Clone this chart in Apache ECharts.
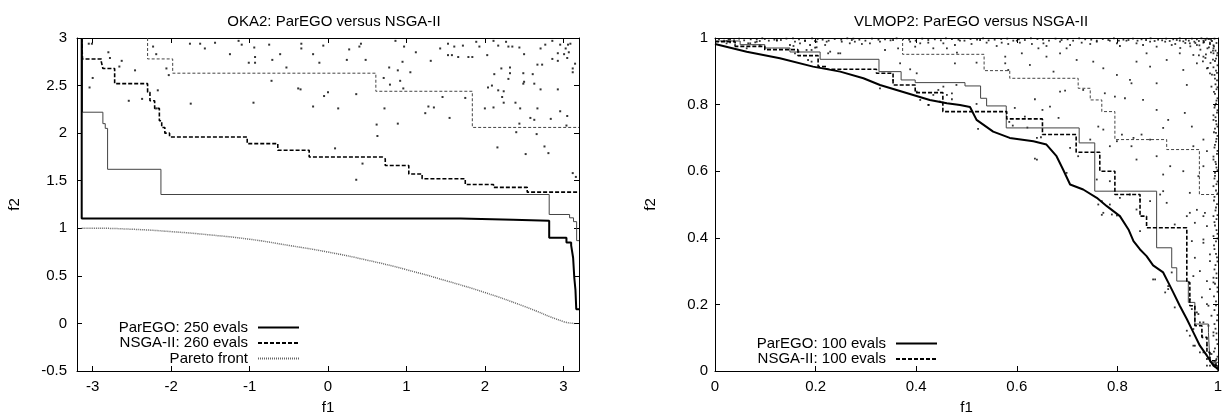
<!DOCTYPE html>
<html>
<head>
<meta charset="utf-8">
<script src="https://cdn.jsdelivr.net/npm/echarts@6/dist/echarts.min.js"></script>
<style>
html,body{margin:0;padding:0;background:#fff;}
#chart{width:1230px;height:420px;}
</style>
</head>
<body>
<div id="chart"></div>
<script>
// ---------- OKA2 (left) ----------
const okaXTicks = [-3, -2, -1, 0, 1, 2, 3];
const okaLegend = ['ParEGO: 250 evals', 'NSGA-II: 260 evals', 'Pareto front'];
// attainment surfaces as step corners [f1, f2]
const okaParegoMedian = [[-3.14,3.0],[-3.14,1.103],[1.69,1.09],[2.36,1.08],[2.82,0.90],[3.04,0.85],[3.10,0.82],[3.125,0.69],[3.14,0.48],[3.155,0.35],[3.165,0.15],[3.2,0.15]];
const okaParegoWorst = [[-3.13,3.0],[-3.13,2.22],[-2.87,2.10],[-2.84,2.05],[-2.81,1.62],[-2.13,1.355],[2.82,1.145],[3.08,1.11],[3.13,1.07],[3.17,0.87],[3.2,0.87]];
const okaNsgaMedian = [[-3.14,3.0],[-3.13,2.78],[-2.89,2.75],[-2.87,2.68],[-2.72,2.52],[-2.30,2.43],[-2.27,2.34],[-2.21,2.26],[-2.15,2.13],[-2.12,2.06],[-2.08,2.0],[-2.02,1.96],[-1.03,1.89],[-0.64,1.82],[-0.24,1.75],[0.69,1.73],[0.73,1.66],[1.03,1.57],[1.20,1.52],[1.75,1.46],[2.11,1.43],[2.54,1.38],[3.2,1.38]];
const okaNsgaWorst = [[-2.30,3.0],[-2.30,2.78],[-1.98,2.63],[0.61,2.44],[1.84,2.06],[3.2,2.06]];
const okaPareto = [[-3.14,1.0],[-3.0,1.0],[-2.5,0.99],[-2.0,0.965],[-1.5,0.93],[-1.0,0.885],[-0.5,0.82],[0.0,0.75],[0.5,0.665],[1.0,0.565],[1.5,0.45],[2.0,0.325],[2.5,0.18],[3.0,0.02],[3.14,0.0]];
const okaDots = [[-3.05,2.94],[-3.01,2.94],[-2.80,2.85],[-2.78,2.79],[-2.63,2.76],[-2.66,2.70],[-2.46,2.66],[-3.00,2.58],[-3.04,2.48],[-2.54,2.34],[-2.37,2.36],[-2.17,2.45],[-2.19,2.26],[-2.23,2.91],[-2.19,2.83],[-2.06,2.68],[-2.03,2.61],[-1.75,2.31],[-1.76,2.94],[-1.63,2.94],[-1.57,2.89],[-1.44,2.95],[-1.25,2.83],[-1.14,2.97],[-1.10,2.93],[-1.01,2.74],[-0.93,2.74],[-0.93,2.80],[-0.94,2.90],[-0.75,2.93],[-0.71,2.77],[-0.61,2.83],[-0.53,2.69],[-0.72,2.55],[-0.95,2.32],[-0.38,2.47],[-0.35,2.46],[-0.34,2.94],[-0.34,2.89],[-0.19,2.83],[-0.11,2.74],[-0.19,2.28],[-0.06,2.92],[-0.05,2.39],[0.00,2.43],[0.13,2.26],[0.09,1.84],
[0.27,2.88],[0.40,2.91],[0.42,2.94],[0.24,2.77],[0.48,2.77],[0.86,2.97],[0.97,2.91],[1.12,2.85],[0.95,2.75],[0.78,2.69],[0.89,2.66],[1.05,2.64],[0.71,2.58],[0.92,2.55],[0.79,2.51],[0.96,2.47],[0.36,2.41],[0.72,2.26],[1.28,2.28],[1.35,2.27],[1.24,2.21],[1.55,2.16],[1.46,2.38],[1.75,2.37],[0.89,2.10],[0.62,2.09],[0.63,1.97],[0.44,1.68],[0.36,1.51],[1.31,2.76],[1.43,2.89],[1.53,2.94],[1.61,2.91],[1.72,2.92],[1.53,2.82],[1.58,2.82],[1.66,2.80],[1.79,2.80],[1.84,2.80],[1.89,2.96],[1.93,2.91],[2.03,2.82],[2.11,2.97],[2.17,2.92],[2.27,2.96],[2.30,2.91],[2.35,2.91],[2.44,2.90],[2.50,2.83],[2.71,2.89],[2.77,2.93],[2.86,2.97],[2.96,2.93],[3.06,2.93],[3.09,2.94],[3.03,2.89],[2.93,2.84],[3.01,2.83],[3.07,2.85],[2.86,2.78],[2.93,2.76],[3.05,2.79],[3.15,2.73],[2.67,2.72],[2.73,2.72],[2.32,2.69],[2.21,2.68],[2.12,2.62],[2.32,2.63],[2.49,2.63],[2.61,2.62],[3.12,2.68],[3.12,2.64],[2.30,2.57],[2.50,2.54],[2.49,2.52],[2.63,2.52],[2.04,2.48],[2.09,2.50],[2.17,2.45],[2.24,2.44],[2.71,2.46],[2.93,2.46],[2.22,2.38],[2.24,2.32],[2.39,2.32],[2.00,2.26],[2.11,2.27],[2.45,2.26],[2.67,2.26],[2.96,2.23],[3.05,2.18],[2.58,2.16],[2.63,2.14],[2.84,2.15],[2.44,2.10],[3.04,2.08],[2.40,2.01],[2.66,1.99],[2.16,1.85],[2.52,1.78],[2.76,1.86],[2.81,1.79],[3.12,1.58],[3.16,1.54]];

// ---------- VLMOP2 (right) ----------
const vlmLegend = ['ParEGO: 100 evals', 'NSGA-II: 100 evals'];
const vlmParegoMedian = [[0,0.982],[0.063,0.959],[0.129,0.939],[0.195,0.914],[0.249,0.899],[0.295,0.879],[0.328,0.859],[0.361,0.844],[0.394,0.829],[0.427,0.814],[0.461,0.804],[0.487,0.799],[0.507,0.793],[0.520,0.754],[0.553,0.719],[0.586,0.700],[0.633,0.690],[0.659,0.680],[0.679,0.645],[0.692,0.605],[0.706,0.560],[0.732,0.545],[0.759,0.520],[0.779,0.495],[0.805,0.465],[0.822,0.425],[0.832,0.390],[0.845,0.365],[0.858,0.345],[0.871,0.317],[0.891,0.296],[0.901,0.266],[0.911,0.236],[0.924,0.196],[0.938,0.156],[0.951,0.116],[0.964,0.076],[0.978,0.046],[0.991,0.016],[1.0,0.006]];
const vlmParegoWorst = [[0,0.991],[0.05,0.98],[0.099,0.970],[0.149,0.958],[0.209,0.936],[0.326,0.899],[0.370,0.874],[0.398,0.866],[0.497,0.856],[0.528,0.819],[0.540,0.796],[0.579,0.730],[0.724,0.685],[0.755,0.540],[0.878,0.370],[0.908,0.310],[0.918,0.270],[0.941,0.206],[0.954,0.141],[0.981,0.116],[0.984,0.026],[1.0,0.026]];
const vlmNsgaMedian = [[0,0.989],[0.04,0.975],[0.099,0.965],[0.165,0.947],[0.205,0.914],[0.222,0.906],[0.321,0.894],[0.354,0.859],[0.398,0.836],[0.453,0.779],[0.58,0.757],[0.651,0.710],[0.718,0.657],[0.765,0.600],[0.795,0.530],[0.845,0.465],[0.858,0.430],[0.938,0.266],[0.944,0.196],[0.954,0.136],[0.968,0.101],[0.978,0.056],[0.984,0.031],[0.994,0.016],[1.0,0.0]];
const vlmNsgaWorst = [[0.373,1.0],[0.373,0.951],[0.535,0.902],[0.586,0.879],[0.722,0.849],[0.746,0.814],[0.769,0.779],[0.795,0.695],[0.898,0.665],[0.963,0.530],[1.0,0.530]];
const vlmDots = [[0.023,0.991],[0.030,0.987],[0.038,0.993],[0.066,0.984],[0.080,0.987],[0.089,0.991],[0.099,0.997],[0.123,0.994],[0.149,0.979],[0.159,0.989],[0.179,0.991],[0.189,0.979],[0.192,0.964],[0.199,0.971],[0.199,0.991],[0.222,0.989],[0.229,0.959],[0.249,0.954],[0.252,0.989],[0.272,0.994],[0.278,0.989],[0.185,0.934],[0.192,0.929],[0.166,0.959],
[0.023,0.984],[0.030,0.996],[0.040,0.979],[0.070,0.984],[0.083,0.989],[0.089,0.979],[0.063,0.969],[0.123,0.992],[0.156,0.976],[0.169,0.984],[0.159,0.954],[0.182,0.964],[0.202,0.989],[0.202,0.972],[0.219,0.979],[0.225,0.954],[0.245,0.954],[0.268,0.984],[0.292,0.982],[0.308,0.984],[0.328,0.989],[0.338,0.964],[0.354,0.994],[0.364,0.969],[0.388,0.989],[0.398,0.974],[0.408,0.984],[0.424,0.986],[0.434,0.969],[0.454,0.984],[0.461,0.969],[0.477,0.979],[0.368,0.924],[0.388,0.906],[0.401,0.894],[0.444,0.844],[0.454,0.854],[0.477,0.924],[0.328,0.849],[0.354,0.874],[0.401,0.839],[0.424,0.799],[0.434,0.829],[0.447,0.809],[0.480,0.859],
[0.487,0.992],[0.510,0.982],[0.527,0.994],[0.540,0.986],[0.560,0.976],[0.570,0.986],[0.583,0.982],[0.600,0.992],[0.606,0.986],[0.630,0.982],[0.653,0.984],[0.659,0.976],[0.686,0.989],[0.706,0.979],[0.729,0.986],[0.746,0.982],[0.759,0.989],[0.785,0.992],[0.799,0.984],[0.805,0.976],[0.818,0.992],[0.838,0.984],[0.851,0.979],[0.865,0.989],[0.878,0.974],[0.895,0.989],[0.908,0.979],[0.924,0.992],[0.944,0.984],[0.958,0.979],[0.971,0.986],[0.984,0.982],[0.991,0.969],
[0.481,0.956],[0.520,0.926],[0.577,0.944],[0.577,0.924],[0.610,0.954],[0.626,0.919],[0.643,0.969],[0.659,0.944],[0.673,0.899],[0.686,0.954],[0.699,0.969],[0.719,0.934],[0.752,0.929],[0.772,0.909],[0.799,0.889],[0.825,0.874],[0.838,0.929],[0.858,0.954],[0.865,0.914],[0.878,0.864],[0.898,0.934],[0.924,0.954],[0.931,0.904],[0.938,0.859],[0.951,0.949],[0.958,0.924],[0.971,0.944],[0.978,0.909],[0.984,0.894],[0.987,0.854],[0.991,0.954],
[0.520,0.802],[0.583,0.904],[0.686,0.839],[0.696,0.842],[0.636,0.816],[0.666,0.794],[0.683,0.760],[0.732,0.844],[0.775,0.834],[0.795,0.824],[0.815,0.819],[0.828,0.864],[0.851,0.814],[0.878,0.784],[0.901,0.754],[0.934,0.775],[0.948,0.734],[0.991,0.754],[0.996,0.715],[0.971,0.695],[0.978,0.660],[0.951,0.675],[0.891,0.730],[0.865,0.695],[0.832,0.700],[0.809,0.710],[0.799,0.690],[0.785,0.675],[0.828,0.675],[0.848,0.710],[0.762,0.734],[0.772,0.725],[0.746,0.695],[0.722,0.645],[0.706,0.670],[0.640,0.635],[0.699,0.595],[0.759,0.575],[0.785,0.570],[0.838,0.635],[0.878,0.645],[0.905,0.615],[0.891,0.590],[0.931,0.600],[0.961,0.585],[0.971,0.615],[0.991,0.635],[0.994,0.595],[0.991,0.555],[0.944,0.535],[0.891,0.540],[0.865,0.510],[0.838,0.485],[0.944,0.475],[0.971,0.465],[0.785,0.500],[0.769,0.510],
[0.885,0.530],[0.898,0.505],[0.845,0.515],[0.825,0.530],[0.805,0.520],[0.762,0.500],[0.789,0.470],[0.845,0.420],[0.914,0.440],[0.938,0.465],[0.954,0.445],[0.974,0.475],[0.978,0.435],[0.991,0.405],[0.948,0.390],[0.971,0.385],[0.954,0.340],[0.984,0.330],[0.964,0.300],[0.951,0.285],[0.978,0.270],[0.991,0.280],[0.875,0.275],[0.901,0.255],[0.895,0.236],[0.914,0.191],[0.968,0.221],[0.984,0.246],[0.958,0.176],[0.981,0.196],[0.987,0.166],[0.964,0.146],[0.981,0.136],[0.968,0.106],[0.991,0.106],[0.951,0.076],[0.978,0.076],[0.971,0.056],[0.987,0.051],[0.991,0.021],[0.978,0.016],[0.997,0.036],[0.938,0.121],[0.944,0.106],[0.951,0.126],
[0.772,0.475],[0.799,0.467],[0.871,0.275],[0.901,0.246],[0.908,0.296],[0.958,0.484],[0.991,0.465],[0.971,0.395],[0.984,0.350],[0.991,0.266],[0.978,0.201],[0.971,0.146],[0.991,0.116],[0.954,0.076],[0.964,0.056],[0.978,0.036],[0.984,0.016],[0.944,0.216],[0.948,0.186],[0.961,0.171],[0.769,0.469],
[0.461,0.829],[0.471,0.834],[0.471,0.816],[0.408,0.814],[0.425,0.799],[0.523,0.727],[0.636,0.638],[0.651,0.784],[0.596,0.790],[0.616,0.764],[0.585,0.748],[0.592,0.737],[0.621,0.731],[0.640,0.700],[0.648,0.702]];
const vlmEdgeDots = [[0.997,0.985],[0.995,0.962],[0.998,0.948],[0.994,0.931],[0.999,0.918],[0.996,0.902],[0.993,0.889],[0.998,0.873],[0.995,0.861],[0.997,0.846],[0.994,0.832],[0.999,0.819],[0.996,0.803],[0.993,0.791],[0.998,0.776],[0.995,0.762],[0.997,0.741],[0.994,0.728],[0.999,0.706],[0.996,0.689],[0.993,0.671],[0.998,0.652],[0.995,0.628],[0.997,0.611],[0.994,0.586],[0.999,0.569],[0.996,0.542],[0.993,0.523],[0.998,0.501],[0.995,0.482],[0.997,0.456],[0.994,0.437],[0.999,0.412],[0.996,0.389],[0.993,0.366],[0.998,0.341],[0.995,0.318],[0.997,0.293],[0.994,0.262],[0.999,0.238],[0.996,0.209],[0.993,0.183],[0.998,0.152],[0.995,0.127],[0.997,0.094],[0.994,0.068],[0.999,0.043],[0.996,0.021],[0.998,0.008],
[0.008,0.997],[0.027,0.995],[0.048,0.998],[0.071,0.996],[0.094,0.999],[0.118,0.995],[0.142,0.998],[0.167,0.996],[0.193,0.999],[0.214,0.995],[0.238,0.997],[0.263,0.999],[0.287,0.995],[0.312,0.998],[0.338,0.996],[0.361,0.999],[0.386,0.995],[0.412,0.998],[0.437,0.996],[0.459,0.999],[0.484,0.995],[0.508,0.997],[0.533,0.999],[0.556,0.995],[0.581,0.998],[0.604,0.996],[0.628,0.999],[0.652,0.995],[0.677,0.998],[0.701,0.996],[0.724,0.999],[0.748,0.995],[0.771,0.997],[0.793,0.999],[0.812,0.995],[0.831,0.998],[0.848,0.996],[0.866,0.999],[0.881,0.995],[0.897,0.998],[0.911,0.996],[0.924,0.999],[0.936,0.995],[0.948,0.998],[0.958,0.996],[0.967,0.999],[0.975,0.994],[0.982,0.997],[0.988,0.991],[0.993,0.998],[0.991,0.978],[0.984,0.986],[0.979,0.969],[0.972,0.988],[0.963,0.978],[0.986,0.957],[0.976,0.951]];
const vlmEdgeDots2 = [[0.992,0.975],[0.999,0.955],[0.996,0.938],[0.991,0.912],[0.998,0.895],[0.994,0.878],[0.999,0.852],[0.992,0.838],[0.997,0.812],[0.994,0.797],[0.999,0.783],[0.991,0.768],[0.996,0.751],[0.999,0.734],[0.992,0.717],[0.997,0.697],[0.994,0.679],[0.999,0.661],[0.991,0.644],[0.996,0.621],[0.999,0.603],[0.993,0.578],[0.997,0.561],[0.999,0.533],[0.992,0.512],[0.996,0.491],[0.999,0.468],[0.993,0.447],[0.997,0.423],[0.999,0.398],[0.992,0.377],[0.996,0.352],[0.999,0.329],[0.993,0.305],[0.997,0.279],[0.999,0.251],[0.992,0.224],[0.996,0.197],[0.999,0.168],[0.993,0.141],[0.997,0.113],[0.999,0.081],[0.992,0.058],[0.996,0.032],[0.999,0.015],
[0.018,0.992],[0.058,0.993],[0.083,0.996],[0.107,0.992],[0.131,0.994],[0.155,0.999],[0.179,0.993],[0.204,0.997],[0.226,0.992],[0.251,0.995],[0.275,0.998],[0.299,0.992],[0.325,0.995],[0.349,0.993],[0.374,0.997],[0.399,0.992],[0.424,0.994],[0.449,0.993],[0.471,0.997],[0.496,0.992],[0.521,0.995],[0.544,0.993],[0.569,0.997],[0.593,0.992],[0.616,0.994],[0.641,0.997],[0.664,0.992],[0.689,0.994],[0.712,0.992],[0.736,0.996],[0.759,0.992],[0.782,0.994],[0.803,0.992],[0.822,0.994],[0.84,0.992],[0.857,0.994],[0.874,0.991],[0.889,0.993],[0.904,0.991],[0.918,0.994],[0.931,0.99],[0.942,0.992],[0.953,0.989],[0.962,0.991],[0.971,0.992],[0.978,0.998],[0.986,0.995],
[0.955,0.985],[0.965,0.965],[0.982,0.972],[0.99,0.962],[0.975,0.94],[0.985,0.925],[0.962,0.948],[0.945,0.975],[0.99,0.935],[0.98,0.91],[0.97,0.93],[0.988,0.89],[0.935,0.985],[0.925,0.97],[0.915,0.982]];

// ---------- chart ----------
const FONT = 'Liberation Sans, Arial, sans-serif';
const txt = {fontFamily: FONT, fontSize: 15, color: '#000'};
const axLine = {show: true, lineStyle: {color: '#000', width: 1}};
const tickStyle = () => ({show: true, inside: true, length: 5, lineStyle: {color: '#000'}});

function mainX(grid, min, max, extra) {
  return Object.assign({
    type: 'value', gridIndex: grid, min: min, max: max, position: 'bottom',
    name: 'f1', nameLocation: 'middle', nameGap: 29, nameTextStyle: txt,
    axisLine: Object.assign({onZero: false}, axLine),
    axisTick: tickStyle(),
    axisLabel: Object.assign({margin: 8}, txt),
    splitLine: {show: false}
  }, extra || {});
}
function mirrorX(grid, min, max, extra) {
  return Object.assign({
    type: 'value', gridIndex: grid, min: min, max: max, position: 'top',
    axisLine: Object.assign({onZero: false}, axLine),
    axisTick: tickStyle(),
    axisLabel: {show: false}, splitLine: {show: false}
  }, extra || {});
}
function mainY(grid, min, max, interval, gap, margin) {
  return {
    type: 'value', gridIndex: grid, min: min, max: max, interval: interval, position: 'left',
    name: 'f2', nameLocation: 'middle', nameGap: gap, nameTextStyle: txt,
    axisLine: Object.assign({onZero: false}, axLine),
    axisTick: tickStyle(),
    axisLabel: Object.assign({margin: margin}, txt),
    splitLine: {show: false}
  };
}
function mirrorY(grid, min, max, interval) {
  return {
    type: 'value', gridIndex: grid, min: min, max: max, interval: interval, position: 'right',
    axisLine: Object.assign({onZero: false}, axLine),
    axisTick: tickStyle(),
    axisLabel: {show: false}, splitLine: {show: false}
  };
}

const xA0 = mainX(0, -3.2, 3.2);
xA0.axisTick.customValues = okaXTicks;
xA0.axisLabel.customValues = okaXTicks;
const xA1 = mirrorX(0, -3.2, 3.2);
xA1.axisTick.customValues = okaXTicks;
const xA2 = mainX(1, 0, 1, {interval: 0.2});
const xA3 = mirrorX(1, 0, 1, {interval: 0.2});

function lineS(name, data, ai, style, step) {
  return {
    type: 'line', name: name, data: data, xAxisIndex: ai, yAxisIndex: ai,
    symbol: 'none', showSymbol: false, step: step || false, lineStyle: style, silent: true,
    itemStyle: {color: style.color}, z: 3
  };
}
function dotS(name, data, ai, size) {
  return {
    type: 'scatter', name: name, data: data, xAxisIndex: ai, yAxisIndex: ai,
    symbol: 'rect', symbolSize: size, itemStyle: {color: '#000'}, silent: true, z: 2
  };
}

const thickSolid = {color: '#000', width: 2, type: 'solid'};
const thinSolid = {color: '#444', width: 1, type: 'solid'};
const thickDash = {color: '#000', width: 1.6, type: [4, 2]};
const thinDash = {color: '#444', width: 1, type: [3, 2]};
const dotted = {color: '#666', width: 1.5, type: [1, 1]};

const legendBase = {
  orient: 'vertical', align: 'right', padding: 0,
  itemWidth: 41, itemHeight: 10, itemGap: 0.5, selectedMode: false,
  itemStyle: {color: 'rgba(0,0,0,0)', borderColor: 'rgba(0,0,0,0)', borderWidth: 0},
  textStyle: {fontFamily: FONT, fontSize: 15, color: '#000', lineHeight: 15, padding: [0, 5, 0, 0]}
};

const option = {
  animation: false,
  backgroundColor: '#fff',
  title: [
    {text: 'OKA2: ParEGO versus NSGA-II', left: 329, top: 9, textAlign: 'center',
     textStyle: {fontFamily: FONT, fontSize: 15, fontWeight: 'normal', color: '#000'}},
    {text: 'VLMOP2: ParEGO versus NSGA-II', left: 966, top: 9, textAlign: 'center',
     textStyle: {fontFamily: FONT, fontSize: 15, fontWeight: 'normal', color: '#000'}}
  ],
  grid: [
    {left: 77, top: 38, width: 502, height: 334, containLabel: false},
    {left: 715, top: 38, width: 503, height: 334, containLabel: false}
  ],
  legend: [
    Object.assign({data: okaLegend, right: 930, top: 320}, legendBase),
    Object.assign({data: vlmLegend, right: 292, top: 336}, legendBase)
  ],
  xAxis: [xA0, xA1, xA2, xA3],
  yAxis: [
    mainY(0, -0.5, 3, 0.5, 55, 10),
    mirrorY(0, -0.5, 3, 0.5),
    mainY(1, 0, 1, 0.2, 57, 7),
    mirrorY(1, 0, 1, 0.2)
  ],
  series: [
    dotS('okaPts', okaDots, 0, 2),
    lineS('okaPW', okaParegoWorst, 0, thinSolid, 'end'),
    lineS('okaNW', okaNsgaWorst, 0, thinDash, 'end'),
    lineS(okaLegend[0], okaParegoMedian, 0, thickSolid, 'end'),
    lineS(okaLegend[1], okaNsgaMedian, 0, thickDash, 'end'),
    Object.assign(lineS(okaLegend[2], okaPareto, 0, dotted), {smooth: true}),
    dotS('vlmPts', vlmDots, 2, 1.8),
    dotS('vlmEdge', vlmEdgeDots, 2, 1.8),
    dotS('vlmEdge2', vlmEdgeDots2, 2, 1.8),
    lineS('vlmPW', vlmParegoWorst, 2, thinSolid, 'end'),
    lineS('vlmNW', vlmNsgaWorst, 2, thinDash, 'end'),
    lineS(vlmLegend[0], vlmParegoMedian, 2, thickSolid),
    lineS(vlmLegend[1], vlmNsgaMedian, 2, thickDash, 'end')
  ]
};

const chart = echarts.init(document.getElementById('chart'), null, {renderer: 'canvas'});
chart.setOption(option);
</script>
</body>
</html>
